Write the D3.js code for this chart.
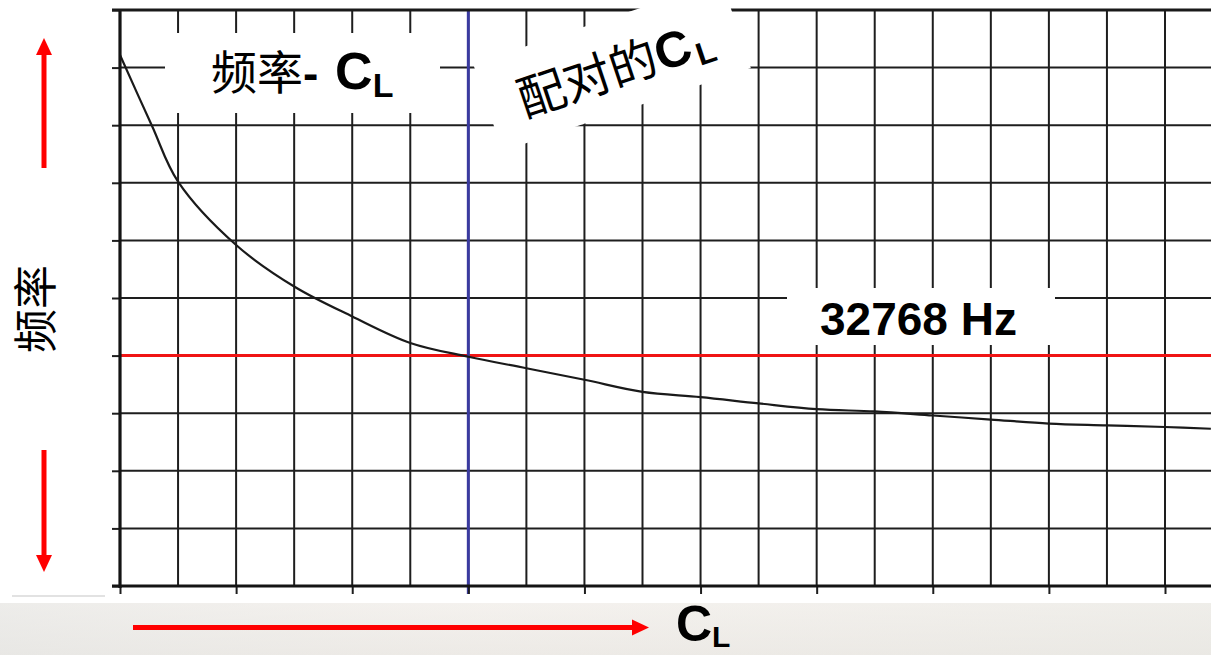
<!DOCTYPE html>
<html>
<head>
<meta charset="utf-8">
<script src="https://cdn.jsdelivr.net/npm/d3@7"></script>
<style>
  html, body { margin: 0; padding: 0; background: #ffffff; }
  svg { display: block; }
</style>
</head>
<body>
<div id="chart"></div>
<script>
// ---- data (grid units) ----
const clValues   = [0, 0.55, 1, 2, 3, 4, 5, 6, 7, 8, 9, 10, 11, 12, 13, 14, 15, 16, 17, 18, 18.79];
const freqValues = [9.22, 7.99, 7.02, 5.92, 5.20, 4.68, 4.22, 3.98, 3.78, 3.58, 3.37, 3.28, 3.17, 3.07, 3.03, 2.96, 2.89, 2.82, 2.79, 2.76, 2.73];
const xGridValues = d3.range(0, 19);          // vertical grid lines
const yGridValues = d3.range(0, 11);          // horizontal grid lines
const xTickValues = d3.range(0, 19, 2);       // bottom ticks
const matchedCL = 6;                           // blue line
const targetFreq = 4;                          // red line (32768 Hz)
const titleText = ["频率", "- ", "C", "L"];
const matchedText = ["配对的", "C", "L"];
const freqLabel = "32768 Hz";
const yAxisLabel = "频率";
const xAxisLabel = ["C", "L"];

const W = 1211, H = 655;
const svg = d3.select("#chart").append("svg").attr("width", W).attr("height", H);

const x = d3.scaleLinear().domain([0, 18]).range([120, 1165]);
const y = d3.scaleLinear().domain([0, 10]).range([586, 10]);
const xEnd = W;

const defs = svg.append("defs");
const grad = defs.append("linearGradient").attr("id", "band").attr("x1", 0).attr("y1", 0).attr("x2", 0).attr("y2", 1);
grad.append("stop").attr("offset", "0%").attr("stop-color", "#f3f1ee");
grad.append("stop").attr("offset", "100%").attr("stop-color", "#e7e5e1");
const gradH = defs.append("linearGradient").attr("id", "bandH").attr("x1", 0).attr("y1", 0).attr("x2", 1).attr("y2", 0);
gradH.append("stop").attr("offset", "0%").attr("stop-color", "#e9e9e7").attr("stop-opacity", 0.6);
gradH.append("stop").attr("offset", "40%").attr("stop-color", "#f6f2ee").attr("stop-opacity", 0.4);
gradH.append("stop").attr("offset", "100%").attr("stop-color", "#ecebe6").attr("stop-opacity", 0.6);

svg.append("rect").attr("width", W).attr("height", H).attr("fill", "#ffffff");
svg.append("rect").attr("x", 0).attr("y", 603).attr("width", W).attr("height", H - 603).attr("fill", "url(#band)");
svg.append("rect").attr("x", 0).attr("y", 603).attr("width", W).attr("height", H - 603).attr("fill", "url(#bandH)");
svg.append("line").attr("x1", 12).attr("x2", 105).attr("y1", 596).attr("y2", 596)
  .attr("stroke", "#d8d8d8").attr("stroke-width", 1.5);

// ---- grid ----
const grid = svg.append("g").attr("stroke", "#1e1e1e").attr("stroke-width", 2);
grid.selectAll("line.v").data(xGridValues).join("line").attr("class", "v")
  .attr("x1", d => x(d)).attr("x2", d => x(d)).attr("y1", y(10)).attr("y2", y(0));
grid.selectAll("line.h").data(yGridValues).join("line").attr("class", "h")
  .attr("x1", x(0)).attr("x2", xEnd).attr("y1", d => y(d)).attr("y2", d => y(d));

// ---- reference lines ----
svg.append("line").attr("x1", x(0)).attr("x2", xEnd).attr("y1", y(targetFreq)).attr("y2", y(targetFreq))
  .attr("stroke", "#f01414").attr("stroke-width", 3);
svg.append("line").attr("x1", x(matchedCL)).attr("x2", x(matchedCL)).attr("y1", y(10)).attr("y2", y(0) + 8)
  .attr("stroke", "#3a3aa0").attr("stroke-width", 3);

// ---- curve ----
const pts = clValues.map((c, i) => [c, freqValues[i]]);
svg.append("path").datum(pts)
  .attr("d", d3.line().x(d => x(d[0])).y(d => y(d[1])).curve(d3.curveCatmullRom.alpha(0.5)))
  .attr("fill", "none").attr("stroke", "#1a1a1a").attr("stroke-width", 2.2);

// ---- axes (ticks) ----
const axL = svg.append("g").attr("transform", `translate(${x(0)},0)`)
  .call(d3.axisLeft(y).tickValues(yGridValues).tickSize(8).tickFormat(""));
axL.select(".domain").remove();
axL.selectAll(".tick line").attr("stroke", "#1e1e1e").attr("stroke-width", 2);
const axB = svg.append("g").attr("transform", `translate(0,${y(0)})`)
  .call(d3.axisBottom(x).tickValues(xTickValues).tickSize(8).tickFormat(""));
axB.select(".domain").remove();
axB.selectAll(".tick line").attr("stroke", "#1e1e1e").attr("stroke-width", 2);

// frame
svg.append("line").attr("x1", x(0)).attr("x2", x(0)).attr("y1", y(10) - 1).attr("y2", y(0) + 2)
  .attr("stroke", "#141414").attr("stroke-width", 3.2);
svg.append("line").attr("x1", x(0) - 8).attr("x2", xEnd).attr("y1", y(0)).attr("y2", y(0))
  .attr("stroke", "#141414").attr("stroke-width", 3.2);
svg.append("line").attr("x1", x(0) - 8).attr("x2", xEnd).attr("y1", y(10)).attr("y2", y(10))
  .attr("stroke", "#1a1a1a").attr("stroke-width", 3);

// ---- label boxes ----
const cjk = "'Noto Sans CJK SC', 'Noto Sans', sans-serif";
const lat = "'Liberation Sans', Arial, sans-serif";

// title box
svg.append("rect").attr("x", 165).attr("y", 33).attr("width", 275).attr("height", 80).attr("fill", "#ffffff");
const t1 = svg.append("text").attr("x", 211).attr("y", 89).attr("fill", "#000");
t1.append("tspan").attr("font-family", cjk).attr("font-size", 46).text(titleText[0]);
t1.append("tspan").attr("font-family", lat).attr("font-weight", "bold").attr("font-size", 46).attr("xml:space", "preserve").text(titleText[1]);
t1.append("tspan").attr("font-family", lat).attr("font-weight", "bold").attr("font-size", 52).attr("dx", 4).text(titleText[2]);
t1.append("tspan").attr("font-family", lat).attr("font-weight", "bold").attr("font-size", 34).attr("dy", 8).text(titleText[3]);

// rotated box
const rg = svg.append("g").attr("transform", "translate(612,66) rotate(-18.5)");
rg.append("rect").attr("x", -131).attr("y", -46).attr("width", 262).attr("height", 92).attr("fill", "#ffffff");
const t2 = rg.append("text").attr("x", 2).attr("y", 21).attr("text-anchor", "middle").attr("fill", "#000");
t2.append("tspan").attr("font-family", cjk).attr("font-size", 48).text(matchedText[0]);
t2.append("tspan").attr("font-family", lat).attr("font-weight", "bold").attr("font-size", 50).text(matchedText[1]);
t2.append("tspan").attr("font-family", lat).attr("font-weight", "bold").attr("font-size", 32).attr("dx", 3).attr("dy", 7).text(matchedText[2]);

// 32768 Hz box
svg.append("rect").attr("x", 787).attr("y", 288).attr("width", 268).attr("height", 57).attr("fill", "#ffffff");
svg.append("text").attr("x", 820).attr("y", 335).attr("font-family", lat).attr("font-weight", "bold")
  .attr("font-size", 46).attr("fill", "#000").text(freqLabel);

// ---- y label and arrows ----
svg.append("text").attr("transform", "translate(33,309) rotate(-90)")
  .attr("text-anchor", "middle").attr("dominant-baseline", "central")
  .attr("font-family", cjk).attr("font-size", 44).attr("fill", "#000").text(yAxisLabel);

function arrow(x1, y1, x2, y2) {
  const dx = x2 - x1, dy = y2 - y1, L = Math.hypot(dx, dy);
  const ux = dx / L, uy = dy / L, head = 17, hw = 8;
  const bx = x2 - ux * head, by = y2 - uy * head;
  svg.append("line").attr("x1", x1).attr("y1", y1).attr("x2", bx).attr("y2", by)
    .attr("stroke", "#ff0000").attr("stroke-width", 5);
  svg.append("path")
    .attr("d", `M${x2},${y2} L${bx - uy * hw},${by + ux * hw} L${bx + uy * hw},${by - ux * hw} Z`)
    .attr("fill", "#ff0000");
}
arrow(44, 168, 44, 38);
arrow(44, 450, 44, 572);
arrow(133, 627.5, 649, 627.5);

// x label
const t3 = svg.append("text").attr("x", 676).attr("y", 641).attr("font-family", lat)
  .attr("font-weight", "bold").attr("fill", "#000");
t3.append("tspan").attr("font-size", 50).text(xAxisLabel[0]);
t3.append("tspan").attr("font-size", 30).attr("dy", 6).text(xAxisLabel[1]);
</script>
</body>
</html>
